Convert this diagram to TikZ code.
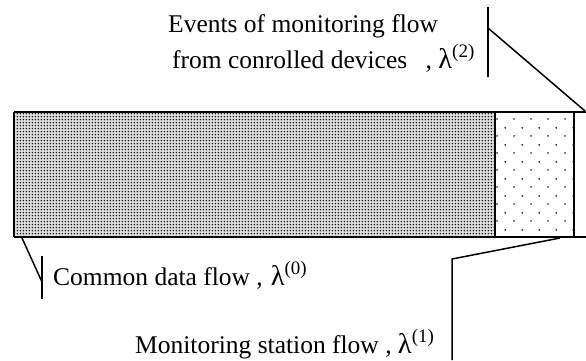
\documentclass[tikz,border=0pt]{standalone}
\usepackage{fontspec}
\setmainfont{Liberation Serif}
\usetikzlibrary{patterns.meta}
\pgfdeclarepattern{name=densedots, type=uncolored,
  bottom left={\pgfpoint{0pt}{0pt}}, top right={\pgfpoint{3.3pt}{3.3pt}},
  tile size={\pgfpoint{3.3pt}{3.3pt}},
  code={\pgfpathcircle{\pgfpoint{1.65pt}{1.65pt}}{0.95pt}\pgfusepath{fill}}}
\pgfdeclarepattern{name=sparsedots, type=uncolored,
  bottom left={\pgfpoint{0pt}{0pt}}, top right={\pgfpoint{17pt}{17pt}},
  tile size={\pgfpoint{17pt}{17pt}},
  code={\pgfpathcircle{\pgfpoint{4.25pt}{4.25pt}}{1pt}\pgfpathcircle{\pgfpoint{12.75pt}{12.75pt}}{1pt}\pgfusepath{fill}}}
\newcommand\lamsup[1]{{\fontsize{28.5}{30}\selectfont λ}\raisebox{10.5pt}{\fontsize{19}{20}\selectfont (#1)}}
\tikzset{
  frame/.style={line width=2pt},
  callout/.style={line width=1.5pt},
  lbl/.style={inner sep=0pt, anchor=base west, font=\fontsize{25.5}{30}\selectfont}
}
\begin{document}
\begin{tikzpicture}[x=1pt,y=-1pt]
\useasboundingbox (0,0) rectangle (586,360);
% fills
\fill[gray!25] (14,112) rectangle (495,237);
\fill[pattern=densedots, pattern color=black!90] (14,112) rectangle (495,237);
\fill[pattern=sparsedots, pattern color=black!85] (495,112) rectangle (574,237);
% frame
\coordinate (tl) at (14,112);
\coordinate (bl) at (14,237);
\coordinate (tr) at (586,112);
\coordinate (br) at (586,237);
\coordinate (dt) at (495,112);
\coordinate (db) at (495,237);
\coordinate (rt) at (574,112);
\coordinate (rb) at (574,237);
\draw[frame] (tl) -- (tr);
\draw[frame] (bl) -- (br);
\draw[frame] (tl) -- (bl);
\draw[frame] (dt) -- (db);
\draw[frame] (rt) -- (rb);
% texts
\node[lbl] (ev1) at (168,32) {Events of monitoring flow};
\node[lbl] (ev2) at (172,68) {from conrolled devices\hspace*{12pt} , \lamsup{2}};
\node[lbl] (cd) at (53,285) {Common data flow ,\hspace*{8pt}\lamsup{0}};
\node[lbl] (ms) at (135,353) {Monitoring station flow , \lamsup{1}};
% callouts
\coordinate (b2t) at (488,7);
\coordinate (b2b) at (488,77);
\coordinate (b2j) at (488,28);
\coordinate (c2) at (585,111);
\draw[callout] (b2t) -- (b2b);
\draw[callout] (b2j) -- (c2);
\coordinate (b0t) at (42,256);
\coordinate (b0b) at (42,299);
\coordinate (b0j) at (42,282);
\coordinate (c0) at (22,238);
\draw[callout] (b0t) -- (b0b);
\draw[callout] (c0) -- (b0j);
\coordinate (c1) at (560,238);
\coordinate (b1j) at (452,259);
\coordinate (b1b) at (452,360);
\draw[callout] (c1) -- (b1j) -- (b1b);
\end{tikzpicture}
\end{document}
